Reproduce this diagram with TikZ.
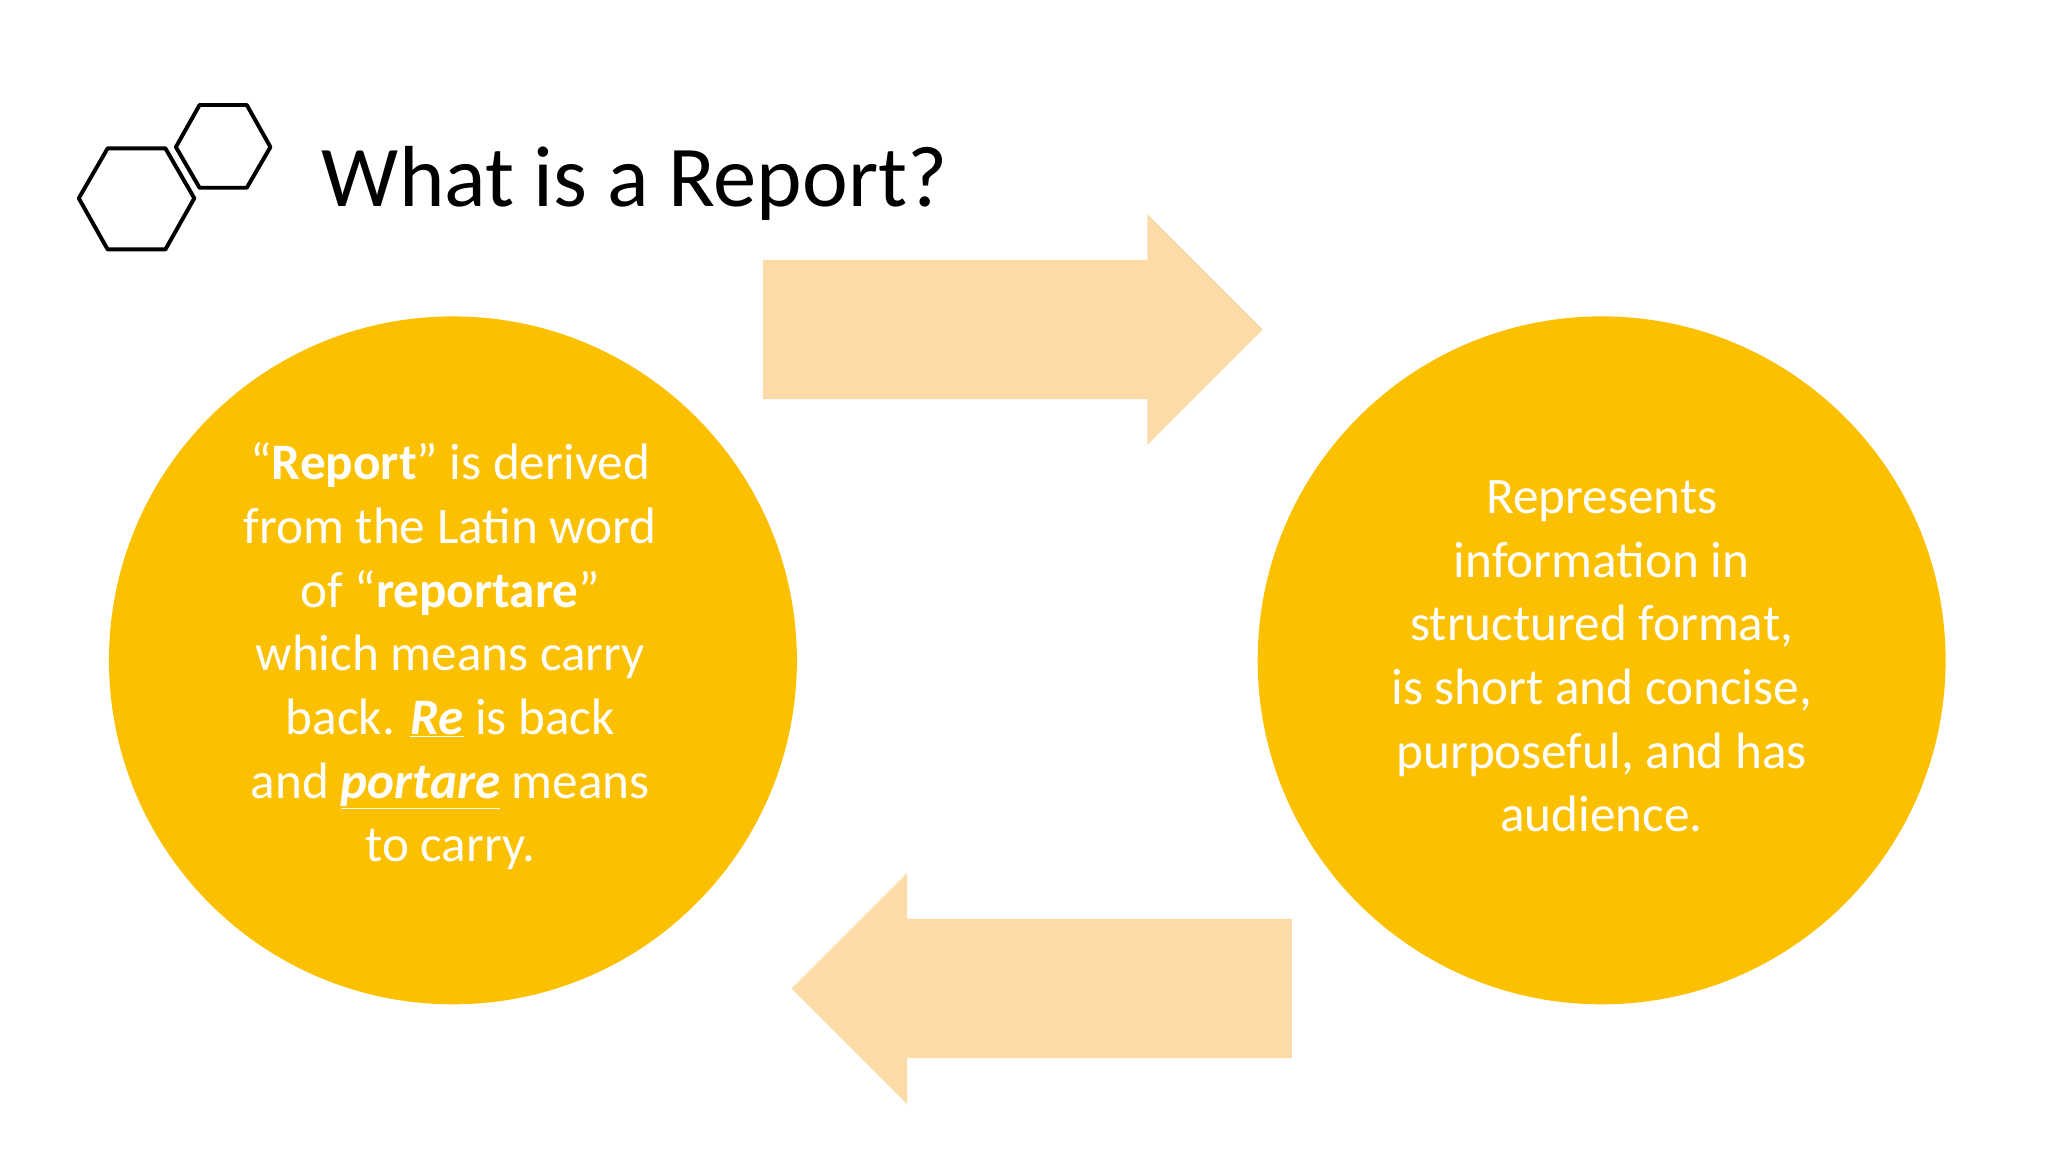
\documentclass[tikz,border=0pt]{standalone}
\usepackage{fontspec}
\setmainfont{Carlito}
\definecolor{circ}{HTML}{FBC000}
\definecolor{arr}{HTML}{FDDBA8}
\begin{document}
\begin{tikzpicture}[x=1pt,y=-1pt,
  bubble/.style={circle,fill=circ,minimum size=524pt,inner sep=0pt},
  bt/.style={text=white,align=center,font=\fontsize{39}{48.5}\selectfont},
  hexa/.style={draw=black,line width=3pt,line join=round}]
\useasboundingbox (0,0) rectangle (1560,878);
\fill[white] (0,0) rectangle (1560,878);
\draw[hexa] (60,151)--(82,113)--(126,113)--(148,151)--(126,190)--(82,190)--cycle;
\draw[hexa] (134,112)--(152,80)--(188,80)--(206,112)--(188,143)--(152,143)--cycle;
\node[anchor=base west,inner sep=0pt,font=\fontsize{66}{70}\selectfont] (title) at (245,157) {What is a Report?};
\fill[arr] (581,198)--(874,198)--(874,163)--(962,251)--(874,339)--(874,304)--(581,304)--cycle;
\fill[arr] (984,700)--(691,700)--(691,665)--(603,753)--(691,841)--(691,806)--(984,806)--cycle;
\node[bubble] (L) at (345,503) {};
\node[bubble] (R) at (1220,503) {};
\node[bt] (lt) at (343,500) {``\textbf{Report}'' is derived\\from the Latin word\\of ``\textbf{reportare}''\\which means carry\\back. \underline{\textbf{\textit{Re}}} is back\\and \underline{\textbf{\textit{portare}}} means\\to carry.};
\node[bt] (rt) at (1220,500) {Represents\\information in\\structured format,\\is short and concise,\\purposeful, and has\\audience.};
\end{tikzpicture}
\end{document}
